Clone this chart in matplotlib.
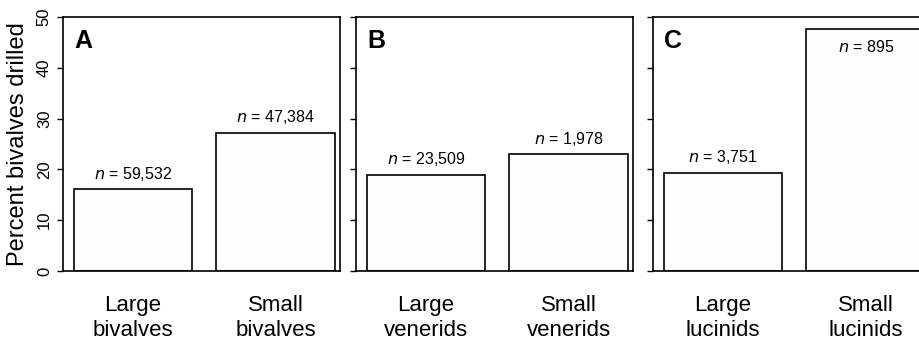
import matplotlib.pyplot as plt

plt.rcParams['font.family'] = ['Liberation Sans', 'DejaVu Sans']

panels = ['A', 'B', 'C']
categories = [['Large\nbivalves', 'Small\nbivalves'],
              ['Large\nvenerids', 'Small\nvenerids'],
              ['Large\nlucinids', 'Small\nlucinids']]
pct_drilled = [[16.1, 27.2],
               [18.9, 23.0],
               [19.3, 47.6]]
sample_n = [['59,532', '47,384'],
            ['23,509', '1,978'],
            ['3,751', '895']]
yticks = [0, 10, 20, 30, 40, 50]

fig = plt.figure(figsize=(9.2, 3.43), dpi=100)
W, H = 920, 343
lefts = [63, 356, 653]
ax_w = 277
bottom, top = 271, 17

for i, panel in enumerate(panels):
    ax = fig.add_axes([lefts[i] / W, (H - bottom) / H, ax_w / W, (bottom - top) / H])
    x = range(len(categories[i]))
    ax.bar(x, pct_drilled[i], width=0.83, color='#fdfdfd', edgecolor='black', linewidth=1.2)
    ax.set_xlim(-0.49, 1.45)
    ax.set_ylim(0, 50)
    ax.set_yticks(yticks)
    ax.set_xticks(list(x))
    ax.set_xticklabels(categories[i], fontsize=16, linespacing=1.25)
    ax.tick_params(axis='x', length=0, pad=17)
    ax.tick_params(axis='y', direction='out', length=4, width=1, pad=4)
    if i == 0:
        ax.set_yticklabels([str(t) for t in yticks], rotation=90, va='center', fontsize=12)
        ax.set_ylabel('Percent bivalves drilled', fontsize=17, labelpad=6)
    else:
        ax.set_yticklabels([])
    for s in ax.spines.values():
        s.set_linewidth(1.2)
    ax.text(11 / ax_w, 1 - 12 / (bottom - top), panel, transform=ax.transAxes,
            fontsize=18, fontweight='bold', va='top', ha='left')
    for xi, h, n in zip(x, pct_drilled[i], sample_n[i]):
        if h > 45:
            ax.text(xi, h - 2.0, r'$\it{n}$ = ' + n, ha='center', va='top', fontsize=11.5)
        else:
            ax.text(xi, h + 1.3, r'$\it{n}$ = ' + n, ha='center', va='bottom', fontsize=11.5)

fig.savefig('out.png', dpi=100)
